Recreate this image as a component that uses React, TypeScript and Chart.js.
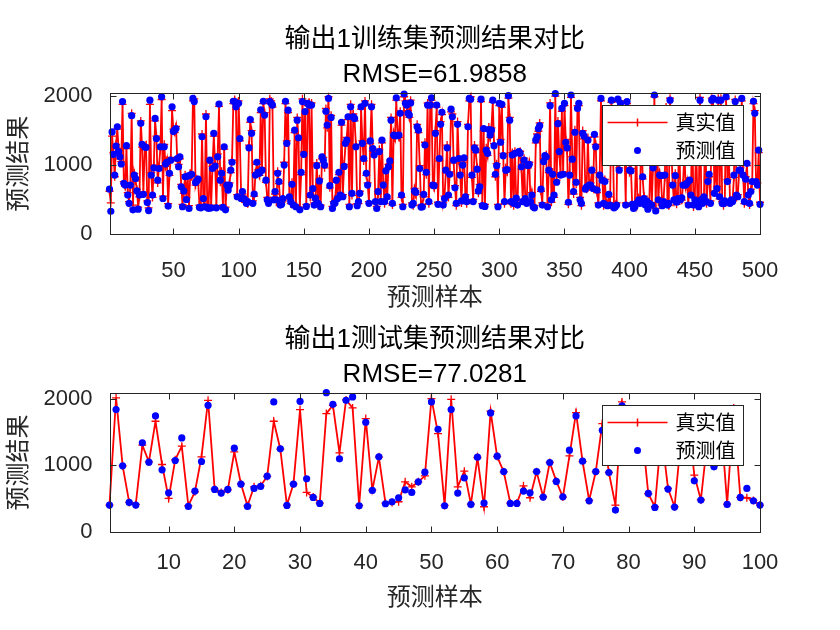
import React, { useEffect, useRef } from 'react';
import { Chart, registerables } from 'chart.js';
Chart.register(...registerables);

// ---------------- data ----------------
const trainPred = [
650,330,1480,1155,855,1275,1555,1195,1120,1015,
1920,735,710,1280,565,445,710,1715,350,855,
805,625,360,565,1605,1300,575,1265,1255,455,
340,1940,855,565,960,1675,1385,780,950,1265,
1990,515,1265,1015,1040,405,880,1070,1845,1485,
1505,1530,1095,975,1120,685,395,625,830,500,
840,370,855,865,1965,1920,745,770,795,385,
380,1410,515,395,1700,385,370,1070,380,950,
1460,985,380,1120,1885,780,880,385,1265,350,
710,635,710,925,1040,1925,1920,1845,540,1895,
1385,515,615,515,495,445,470,1250,1660,1460,
445,580,855,1040,895,880,1800,925,1925,1725,
780,495,445,1920,
1895,1870,495,615,495,880,760,420,430,515,
1000,1925,1315,1795,540,470,720,420,1505,395,
1650,1395,350,895,1920,1155,1775,400,1895,1870,
565,1870,660,420,520,990,445,770,395,1120,
1070,1000,1780,1580,1965,700,1690,370,445,450,
780,515,895,565,1620,540,980,1315,1360,1700,
395,1845,590,1700,1675,1265,410,470,590,1845,
1315,1095,1895,880,710,445,1350,1845,1240,1145,
470,370,615,1195,470,1360,710,470,915,540,
975,1060,1650,445,1435,1425,1975,1425,1435,1750,
565,395,2030,1895,1870,1750,1725,1900,420,445,
625,605,1555,1505,950,390,395,575,1290,895,
1870,470,
1870,1975,710,700,1460,1870,430,1095,1590,1765,
420,515,925,1250,565,865,1810,1700,1070,670,
445,1590,1095,855,480,1000,1105,540,470,1555,
1965,1955,855,470,1250,1215,940,625,685,1955,
410,1530,400,1215,1170,1515,1435,1505,1940,1280,
865,990,395,1895,1330,1880,1135,470,925,935,
2005,1650,470,1145,445,1170,520,420,1195,1170,
975,470,1070,515,445,990,1010,470,565,395,
380,1360,1410,1530,1570,650,420,1050,1135,1120,
395,925,1860,495,865,565,2035,750,1600,1195,
855,1820,865,1895,1330,1250,460,855,2015,1085,
615,1475,750,1820,1895,495,445,1460,1420,650,
685,1360,710,
710,925,660,1445,1265,635,420,855,1965,780,
445,760,420,410,575,420,1940,1450,380,395,
420,1955,925,1895,1500,1200,1300,420,1920,1650,
925,915,430,370,395,1350,460,495,445,1700,
830,515,420,480,360,445,1100,420,960,2015,
335,1550,495,855,845,410,470,855,1800,420,
445,1940,1250,710,495,845,460,515,1500,495,
525,710,1150,710,735,420,780,565,1600,420,
495,1380,470,395,1940,500,445,540,1720,470,
760,865,445,1940,1965,590,1050,660,1940,540,
1940,445,440,480,1990,760,1300,445,495,470,
855,1920,565,540,925,925,1965,855,470,795,
1025,565,445,615,760,1925,1750,760,710,1215,
430
];

const trainTrue = [
620,450,1420,1180,830,1300,1520,1240,1090,1050,
1880,760,690,1240,600,470,680,1750,420,880,
770,650,390,540,1640,1260,610,1230,1290,480,
380,1880,890,530,1000,1640,1420,740,990,1230,
1950,550,1300,980,1070,440,850,1110,1790,1520,
1470,1560,1060,1010,1090,720,430,590,860,530,
810,410,880,830,1930,1960,710,800,760,420,
410,1450,480,430,1740,410,400,1030,420,980,
1420,1020,410,1160,1850,750,910,420,1230,390,
680,670,740,890,1070,1890,1950,1810,570,1930,
1350,550,580,550,460,480,440,1290,1620,1500,
480,550,890,1010,930,850,1760,960,1890,1760,
750,530,470,1960,
1930,1840,530,580,460,910,730,450,460,480,
1040,1890,1350,1760,510,440,750,450,1470,420,
1690,1360,390,860,1960,1190,1740,430,1860,1910,
530,1900,630,450,490,1030,410,800,420,1090,
1110,960,1820,1540,1990,670,1720,400,470,480,
750,550,860,600,1580,570,1010,1280,1400,1660,
430,1880,560,1740,1640,1300,440,440,620,1810,
1350,1060,1930,850,740,470,1310,1880,1200,1180,
440,400,580,1230,500,1320,740,440,950,510,
1010,1020,1690,420,1470,1390,1940,1460,1400,1780,
530,430,1990,1930,1840,1790,1690,1940,450,410,
660,570,1590,1470,990,420,430,540,1330,860,
1900,440,
1900,1940,740,670,1500,1840,460,1060,1630,1730,
450,550,890,1290,530,900,1770,1740,1030,700,
410,1630,1060,890,450,1040,1070,570,440,1590,
1930,1990,820,500,1290,1180,970,590,720,1920,
440,1490,430,1250,1140,1550,1400,1540,1910,1310,
830,1020,430,1860,1370,1840,1170,440,960,900,
1970,1690,440,1180,410,1200,490,450,1160,1200,
940,500,1100,480,470,960,1040,440,600,420,
410,1320,1450,1490,1610,620,450,1090,1100,1150,
430,890,1900,460,900,530,2000,780,1640,1160,
890,1780,900,1860,1370,1210,430,890,1980,1120,
580,1510,720,1860,1860,530,410,1500,1380,690,
650,1400,680,
740,890,690,1410,1300,600,450,820,1930,810,
410,790,450,440,540,450,1910,1490,410,430,
450,1920,960,1930,1460,1240,1260,450,1890,1690,
890,950,400,400,420,1310,430,530,470,1740,
800,550,450,450,390,410,1140,450,1000,1990,
370,1510,460,890,810,440,500,820,1840,450,
410,1970,1210,740,460,880,430,550,1460,530,
490,740,1190,680,770,450,750,600,1640,390,
530,1340,500,430,1980,470,480,510,1760,440,
790,830,480,1970,1930,620,1010,690,1970,510,
1970,470,410,450,1960,790,1260,470,460,500,
820,1950,530,570,890,960,1930,880,440,830,
990,600,420,650,730,1890,1790,730,740,1180,
460
];

const testPred = [
400,1835,990,440,400,1335,1045,1740,930,585,
1070,1410,380,610,1055,1900,635,580,635,1255,
715,380,650,680,835,1950,1245,395,715,1960,
795,515,425,2090,1915,1095,1975,2025,390,1645,
620,1125,420,450,510,630,590,750,895,1950,
1540,390,1835,580,810,410,1120,430,1785,1135,
905,425,425,610,585,905,520,1040,755,525,
1225,1740,1060,465,905,1525,890,325,1890,1700,
1250,1550,575,365,1500,640,370,1400,1800,765,
475,1400,975,1750,410,1850,515,650,465,400
];

const testTrue = [
400,2010,990,440,410,1300,1050,1660,1010,500,
1080,1285,390,600,1125,1975,640,590,630,1200,
720,390,675,690,830,1660,1240,400,720,1835,
590,520,430,1775,1900,1185,1980,1860,395,1700,
625,1120,430,440,450,750,675,750,840,2000,
1475,395,1990,675,910,415,1115,375,1810,1130,
900,430,430,690,510,900,525,1040,760,520,
1140,1790,1055,470,900,1625,890,400,1950,1720,
1230,1560,570,375,1490,650,375,1420,1780,850,
480,1380,990,1740,415,1860,515,510,470,400
];

const trainXTicks = [50, 100, 150, 200, 250, 300, 350, 400, 450, 500];
const testXTicks = [10, 20, 30, 40, 50, 60, 70, 80, 90, 100];
const yTicks = [0, 1000, 2000];

const trainTitle = '输出1训练集预测结果对比';
const trainRmse = 'RMSE=61.9858';
const testTitle = '输出1测试集预测结果对比';
const testRmse = 'RMSE=77.0281';
const xLabelText = '预测样本';
const yLabelText = '预测结果';
const legendTrue = '真实值';
const legendPred = '预测值';

// ---------------- style ----------------
const AXIS = '#262626';
const MIX = "Arial, 'Liberation Sans', 'Noto Sans CJK SC', sans-serif";

type PanelCfg = {
  canvasTop: number;
  axTop: number;
  axBottom: number;
  xMin: number;
  xMax: number;
  yMax: number;
  xTicks: number[];
  title: string;
  rmse: string;
  title1Y: number;
  title2Y: number;
  tickLabelY: number;
  xLabelY: number;
  trueData: number[];
  predData: number[];
};

const AX_LEFT = 109.5;
const AX_RIGHT = 760;

const panels: PanelCfg[] = [
  {
    canvasTop: 0, axTop: 93.3, axBottom: 234, xMin: 1, xMax: 500, yMax: 2040,
    xTicks: trainXTicks, title: trainTitle, rmse: trainRmse,
    title1Y: 40, title2Y: 75, tickLabelY: 271, xLabelY: 298,
    trueData: trainTrue, predData: trainPred,
  },
  {
    canvasTop: 315, axTop: 393.3, axBottom: 531.7, xMin: 1, xMax: 100, yMax: 2080,
    xTicks: testXTicks, title: testTitle, rmse: testRmse,
    title1Y: 340, title2Y: 375, tickLabelY: 563, xLabelY: 598,
    trueData: testTrue, predData: testPred,
  },
];

const matlabPlugin = {
  id: 'matlabDecor',
  afterDatasetsDraw(chart: any, _args: any, opts: any) {
    const cfg: PanelCfg = opts.cfg;
    const { ctx, chartArea: a, scales } = chart;
    const xs = scales.x, ys = scales.y;
    const off = cfg.canvasTop;
    ctx.save();
    ctx.strokeStyle = AXIS;
    ctx.lineWidth = 1;
    const L = Math.round(a.left) + 0.5, R = Math.round(a.right) + 0.5;
    const T = Math.round(a.top) + 0.5, B = Math.round(a.bottom) + 0.5;
    ctx.strokeRect(L, T, R - L, B - T);
    const tl = 6;
    ctx.beginPath();
    cfg.xTicks.forEach((v) => {
      const px = Math.round(xs.getPixelForValue(v)) + 0.5;
      ctx.moveTo(px, B); ctx.lineTo(px, B - tl);
      ctx.moveTo(px, T); ctx.lineTo(px, T + tl);
    });
    yTicks.forEach((v) => {
      const py = Math.round(ys.getPixelForValue(v)) + 0.5;
      ctx.moveTo(L, py); ctx.lineTo(L + tl, py);
      ctx.moveTo(R, py); ctx.lineTo(R - tl, py);
    });
    ctx.stroke();

    // tick labels
    ctx.fillStyle = AXIS;
    ctx.font = `22px ${MIX}`;
    ctx.textAlign = 'center';
    ctx.textBaseline = 'middle';
    cfg.xTicks.forEach((v) => {
      ctx.fillText(String(v), xs.getPixelForValue(v), cfg.tickLabelY - off);
    });
    ctx.textAlign = 'right';
    yTicks.forEach((v) => {
      ctx.fillText(String(v), a.left - 17, ys.getPixelForValue(v));
    });

    // titles
    const cx = (a.left + a.right) / 2;
    ctx.fillStyle = '#000';
    ctx.textAlign = 'center';
    ctx.font = `26px ${MIX}`;
    ctx.fillText(cfg.title, cx, cfg.title1Y - off);
    ctx.fillText(cfg.rmse, cx, cfg.title2Y - off);

    // axis labels
    ctx.fillStyle = AXIS;
    ctx.font = `24px ${MIX}`;
    ctx.fillText(xLabelText, cx, cfg.xLabelY - off);
    ctx.save();
    ctx.translate(19, (a.top + a.bottom) / 2);
    ctx.rotate(-Math.PI / 2);
    ctx.fillText(yLabelText, 0, 0);
    ctx.restore();

    // legend
    const lw = 141, lh = 60;
    const lx = Math.round(a.right - 17 - lw) + 0.5;
    const ly = Math.round(a.top + 12) + 0.5;
    ctx.fillStyle = '#fff';
    ctx.fillRect(lx, ly, lw, lh);
    ctx.strokeStyle = AXIS;
    ctx.lineWidth = 1;
    ctx.strokeRect(lx, ly, lw, lh);
    const r1 = ly + 17, r2 = ly + 45;
    const sx = lx + 35;
    ctx.strokeStyle = '#ff0000';
    ctx.lineWidth = 1.5;
    ctx.beginPath();
    ctx.moveTo(lx + 5, r1); ctx.lineTo(lx + 65, r1);
    ctx.moveTo(sx - 4, r1); ctx.lineTo(sx + 4, r1);
    ctx.moveTo(sx, r1 - 4); ctx.lineTo(sx, r1 + 4);
    ctx.stroke();
    ctx.fillStyle = '#0000ff';
    ctx.beginPath();
    ctx.arc(sx, r2, 3.5, 0, Math.PI * 2);
    ctx.fill();
    ctx.fillStyle = '#000';
    ctx.textAlign = 'left';
    ctx.font = `20px 'Noto Sans CJK SC', sans-serif`;
    ctx.fillText(legendTrue, lx + 73, r1);
    ctx.fillText(legendPred, lx + 73, r2);
    ctx.restore();
  },
};

function Panel({ cfg }: { cfg: PanelCfg }) {
  const ref = useRef<HTMLCanvasElement | null>(null);
  useEffect(() => {
    if (!ref.current) return;
    const trueSeries = cfg.trueData.map((v, i) => ({ x: i + 1, y: v }));
    const predSeries = cfg.predData.map((v, i) => ({ x: i + 1, y: v }));
    const chart = new Chart(ref.current, {
      type: 'line',
      data: {
        datasets: [
          {
            label: legendPred,
            data: predSeries,
            showLine: false,
            pointStyle: 'circle',
            pointRadius: 3.6,
            pointBackgroundColor: '#0000ff',
            pointBorderWidth: 0,
            borderColor: '#0000ff',
            order: 0,
            clip: false,
          } as any,
          {
            label: legendTrue,
            data: trueSeries,
            borderColor: '#ff0000',
            borderWidth: 1.8,
            pointStyle: 'cross',
            pointRadius: 4,
            pointBorderColor: '#ff0000',
            pointBorderWidth: 1.3,
            tension: 0,
            order: 1,
            clip: false,
          } as any,
        ],
      },
      options: {
        animation: false,
        responsive: false,
        devicePixelRatio: 1,
        events: [],
        layout: { padding: { top: cfg.axTop - cfg.canvasTop, right: 840 - AX_RIGHT, left: 0, bottom: 0 } },
        plugins: {
          legend: { display: false },
          tooltip: { enabled: false },
          title: { display: false },
          matlabDecor: { cfg },
        } as any,
        scales: {
          x: {
            type: 'linear',
            min: cfg.xMin,
            max: cfg.xMax,
            grid: { display: false },
            border: { display: false },
            ticks: { display: false },
            afterFit: (s: any) => { s.height = cfg.canvasTop + 315 - cfg.axBottom; },
          },
          y: {
            type: 'linear',
            min: 0,
            max: cfg.yMax,
            grid: { display: false },
            border: { display: false },
            ticks: { display: false },
            afterFit: (s: any) => { s.width = AX_LEFT; },
          },
        },
      },
      plugins: [matlabPlugin],
    });
    return () => chart.destroy();
  }, []);
  return (
    <canvas
      ref={ref}
      width={840}
      height={315}
      style={{ position: 'absolute', left: 0, top: cfg.canvasTop, width: 840, height: 315, display: 'block' }}
    />
  );
}

export default function App() {
  return (
    <div style={{ position: 'absolute', left: 0, top: 0, width: 840, height: 630, background: '#fff' }}>
      {panels.map((p, i) => (
        <Panel key={i} cfg={p} />
      ))}
    </div>
  );
}
